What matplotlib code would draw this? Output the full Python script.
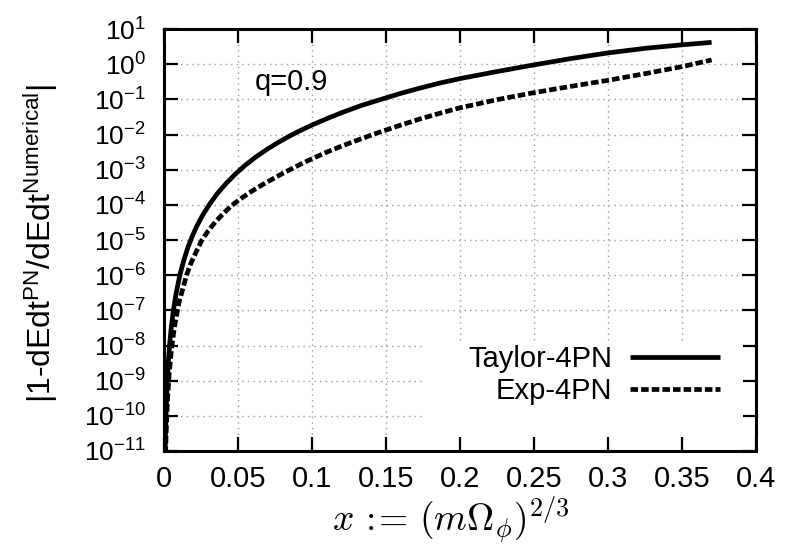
import matplotlib
matplotlib.use("Agg")
import matplotlib.pyplot as plt
from matplotlib.patches import Rectangle
from matplotlib.ticker import NullLocator

# ---- data ----
taylor_x = [0.0007, 0.001, 0.0015, 0.002, 0.003, 0.004, 0.005, 0.006, 0.008, 0.0108,
            0.0135, 0.016, 0.0187, 0.022, 0.026, 0.031, 0.036, 0.042, 0.0486, 0.055,
            0.062, 0.070, 0.077, 0.085, 0.092, 0.100, 0.110, 0.120, 0.133, 0.146,
            0.160, 0.173, 0.186, 0.200, 0.225, 0.250, 0.275, 0.300, 0.325, 0.350, 0.370]
taylor_y = [6.17e-12, 2.95e-11, 1.74e-10, 6.17e-10, 3.72e-9, 1.32e-8, 3.55e-8, 7.76e-8,
            2.75e-7, 1.05e-6, 2.75e-6, 5.89e-6, 1.17e-5, 2.40e-5, 5.01e-5, 1.07e-4,
            2.09e-4, 4.07e-4, 7.76e-4, 1.35e-3, 2.29e-3, 3.89e-3, 5.89e-3, 9.12e-3,
            1.29e-2, 1.86e-2, 2.82e-2, 4.17e-2, 6.61e-2, 9.77e-2, 0.148, 0.209, 0.288,
            0.389, 0.617, 0.955, 1.445, 2.09, 2.82, 3.55, 4.17]

exp_x = [0.0009, 0.0013, 0.0018, 0.0025, 0.0035, 0.005, 0.007, 0.010, 0.0153, 0.018,
         0.0215, 0.0255, 0.030, 0.035, 0.040, 0.0457, 0.052, 0.059, 0.066, 0.074,
         0.080, 0.087, 0.093, 0.100, 0.110, 0.120, 0.132, 0.144, 0.158, 0.172,
         0.186, 0.200, 0.225, 0.250, 0.275, 0.300, 0.325, 0.350, 0.370]
exp_y = [4.07e-12, 2.04e-11, 8.51e-11, 3.63e-10, 1.585e-9, 7.59e-9, 3.31e-8, 1.585e-7,
         1.02e-6, 2.09e-6, 4.37e-6, 9.77e-6, 1.86e-5, 3.39e-5, 5.62e-5, 9.55e-5,
         1.51e-4, 2.40e-4, 3.63e-4, 5.62e-4, 7.76e-4, 1.10e-3, 1.48e-3, 2.04e-3,
         3.16e-3, 4.68e-3, 7.24e-3, 1.10e-2, 1.74e-2, 2.69e-2, 3.98e-2, 5.75e-2,
         9.77e-2, 0.155, 0.234, 0.347, 0.537, 0.851, 1.318]

series_labels = ["Taylor-4PN", "Exp-4PN"]
xtick_vals = [0, 0.05, 0.1, 0.15, 0.2, 0.25, 0.3, 0.35, 0.4]
xtick_labels = ["0", "0.05", "0.1", "0.15", "0.2", "0.25", "0.3", "0.35", "0.4"]
ytick_exps = list(range(-11, 2))
annotation = "q=0.9"

# ---- style ----
plt.rcParams["font.family"] = ["Liberation Sans", "DejaVu Sans"]
plt.rcParams["mathtext.fontset"] = "custom"
plt.rcParams["mathtext.rm"] = "Liberation Sans"
plt.rcParams["mathtext.it"] = "Liberation Sans:italic"
plt.rcParams["mathtext.bf"] = "Liberation Sans:bold"

fig = plt.figure(figsize=(7.92, 5.47), dpi=100)
L, R, T, B = 164, 756, 29, 451
W, H = 792, 547
ax = fig.add_axes([L / W, 1 - B / H, (R - L) / W, (B - T) / H])

ax.set_yscale("log")
ax.set_xlim(0, 0.4)
ax.set_ylim(1e-11, 1e1)

ax.plot(taylor_x, taylor_y, color="black", lw=3.4, solid_capstyle="butt",
        solid_joinstyle="round", label=series_labels[0], zorder=3)
ax.plot(exp_x, exp_y, color="black", lw=3.4, dashes=(1.6, 0.65),
        dash_capstyle="butt", dash_joinstyle="round", label=series_labels[1], zorder=3)

ax.set_xticks(xtick_vals, labels=xtick_labels)
ax.set_yticks([10.0 ** e for e in ytick_exps],
              labels=[r"$\mathregular{10^{%d}}$" % e for e in ytick_exps])
ax.yaxis.set_minor_locator(NullLocator())
ax.xaxis.set_minor_locator(NullLocator())

ax.tick_params(axis="both", which="major", direction="in", length=10, width=1.6,
               top=True, right=True, colors="black")
ax.tick_params(axis="x", labelsize=21, pad=10)
ax.tick_params(axis="y", labelsize=19, pad=13)

ax.set_axisbelow(True)
ax.grid(True, which="major", color="#9a9a9a", lw=1.0, linestyle=(0, (1, 3)))
for s in ax.spines.values():
    s.set_linewidth(2.2)

# white key box (covers the grid under the key, as in the original)
kx0, kx1, ky0, ky1 = 422, 743, 343, 437
ax.add_patch(Rectangle(((kx0 - L) / (R - L), (B - ky1) / (B - T)),
                       (kx1 - kx0) / (R - L), (ky1 - ky0) / (B - T),
                       transform=ax.transAxes, facecolor="white", edgecolor="none",
                       zorder=1))

ax.text(0.0615, 10 ** -0.733, annotation, fontsize=21, va="baseline", ha="left")

leg = ax.legend(loc="upper right", bbox_to_anchor=(720 / W, 1 - 345 / H),
                bbox_transform=fig.transFigure, frameon=False, markerfirst=False,
                fontsize=21, handlelength=3.1, handletextpad=0.6, labelspacing=0.15,
                borderpad=0, borderaxespad=0)
leg.set_zorder(5)

ax.set_xlabel(r"$x\,:\!\!=\,(m\Omega_\phi)^{2/3}$", fontsize=27, math_fontfamily="cm")
ax.xaxis.set_label_coords((451 - L) / (R - L), -0.103)
ax.set_ylabel(r"|1-dEdt$\mathregular{^{PN}}$/dEdt$\mathregular{^{Numerical}}$|",
              fontsize=23)
ax.yaxis.set_label_coords((60 - L) / (R - L), 0.492)

fig.savefig("out.png", dpi=100)
